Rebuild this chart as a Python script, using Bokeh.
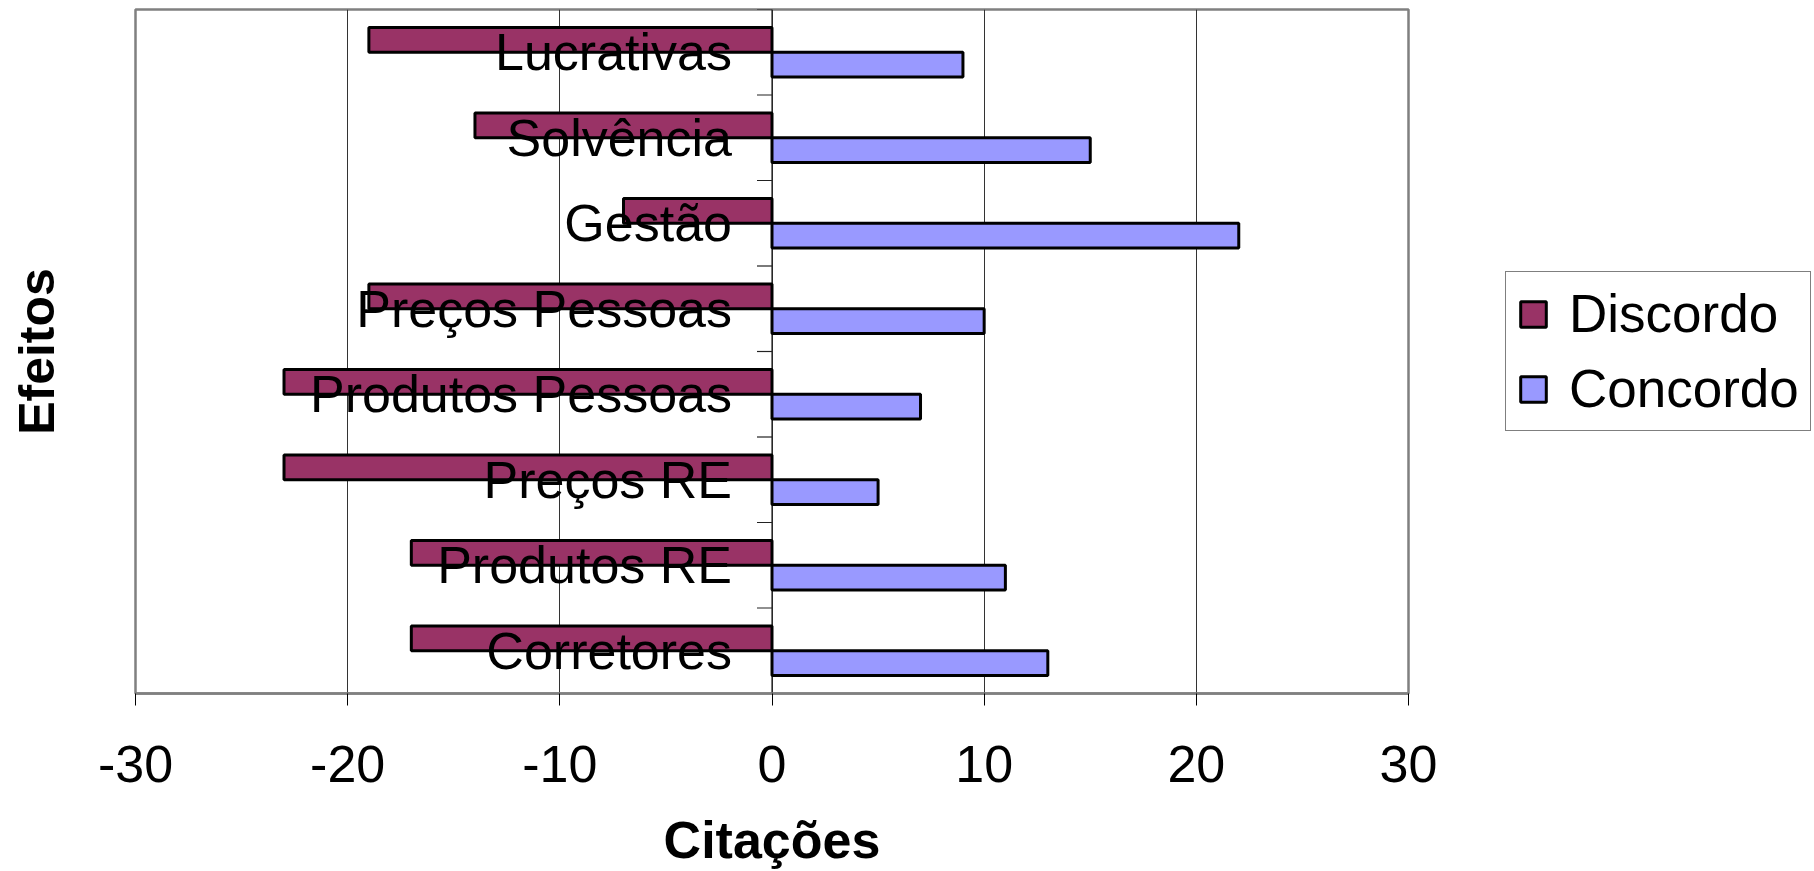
import numpy as np
from bokeh.plotting import figure
from bokeh.layouts import row
from bokeh.models import Range1d, FixedTicker, Span, Legend, LegendItem, ColumnDataSource
from bokeh.core.properties import value
from bokeh.embed import file_html
from bokeh.resources import INLINE

# ---- data (bottom to top) ----
categories = ["Corretores", "Produtos RE", "Preços RE", "Produtos Pessoas",
              "Preços Pessoas", "Gestão", "Solvência", "Lucrativas"]
discordo = [-17, -17, -23, -23, -19, -7, -14, -19]
concordo = [13, 11, 5, 7, 10, 22, 15, 9]
x_ticks = [-30, -20, -10, 0, 10, 20, 30]
series_names = ["Discordo", "Concordo"]
series_colors = ["#993366", "#9999FF"]
x_title = "Citações"
y_title = "Efeitos"

FONT = "Liberation Sans"
n = len(categories)
pos = np.arange(n) + 0.5
bar_h = 0.29

p = figure(width=1450, height=871,
           x_range=Range1d(-30, 30), y_range=Range1d(0, n),
           output_backend="svg", toolbar_location=None,
           min_border_left=135, min_border_right=42,
           min_border_top=9, min_border_bottom=177)

src_d = ColumnDataSource(dict(y=pos + bar_h / 2, v=discordo))
src_c = ColumnDataSource(dict(y=pos - bar_h / 2, v=concordo))

r_d = p.hbar(y="y", left=0, right="v", height=bar_h, source=src_d,
             fill_color=series_colors[0], line_color="black", line_width=3)
r_c = p.hbar(y="y", left=0, right="v", height=bar_h, source=src_c,
             fill_color=series_colors[1], line_color="black", line_width=3)

# zero axis line and category ticks
p.add_layout(Span(location=0, dimension="height", line_color="#222222",
                  line_width=1.2, level="underlay"))
p.ray(x=[0] * (n + 1), y=list(range(n + 1)), length=15, length_units="screen",
      angle=np.pi, line_color="#222222", line_width=1.2)

# category labels next to the zero axis
p.text(x=[0] * n, y=pos, text=categories, text_align="right", text_baseline="middle",
       x_offset=-40, text_font=value(FONT), text_font_size="52px", text_color="black")

# x axis
xa = p.xaxis[0]
xa.ticker = FixedTicker(ticks=x_ticks)
xa.major_label_overrides = {t: str(t) for t in x_ticks}
xa.major_label_text_font = FONT
xa.major_label_text_font_size = "52px"
xa.major_label_text_color = "black"
xa.major_label_standoff = 40
xa.major_tick_out = 12
xa.major_tick_in = 0
xa.major_tick_line_color = "black"
xa.minor_tick_line_color = None
xa.axis_line_color = "#808080"
xa.axis_line_width = 2.5
xa.axis_label = x_title
xa.axis_label_text_font = FONT
xa.axis_label_text_font_size = "52px"
xa.axis_label_text_font_style = "bold"
xa.axis_label_text_color = "black"
xa.axis_label_standoff = 26

# y axis (title only)
ya = p.yaxis[0]
ya.ticker = FixedTicker(ticks=[])
ya.major_label_text_font_size = "0px"
ya.major_tick_line_color = None
ya.minor_tick_line_color = None
ya.axis_line_color = None
ya.axis_label = y_title
ya.axis_label_text_font = FONT
ya.axis_label_text_font_size = "50px"
ya.axis_label_text_font_style = "bold"
ya.axis_label_text_color = "black"
ya.axis_label_standoff = 71

p.xgrid.grid_line_color = "#333333"
p.xgrid.grid_line_width = 1
p.ygrid.visible = False
p.outline_line_color = "#808080"
p.outline_line_width = 2.5

# ---- legend panel (separate figure to the right) ----
pl = figure(width=364, height=871, x_range=Range1d(0, 1), y_range=Range1d(0, 1),
            output_backend="svg", toolbar_location=None, min_border=0,
            x_axis_location=None, y_axis_location=None)
pl.outline_line_color = None
pl.grid.visible = False
swatches = []
for color in series_colors:
    # placeholder renderer without drawable data, only used for the legend swatch
    swatches.append(pl.hbar(y=[np.nan], left=[np.nan], right=[np.nan], height=0.1,
                            fill_color=color, line_color="black", line_width=3))

legend = Legend(items=[LegendItem(label=name, renderers=[r])
                       for name, r in zip(series_names, swatches)],
                location=(55, 262))
legend.label_text_font = FONT
legend.label_text_font_size = "53px"
legend.label_text_color = "black"
legend.glyph_width = 32
legend.glyph_height = 32
legend.label_standoff = 20
legend.padding = 11
legend.spacing = 14
legend.margin = 0
legend.border_line_color = "black"
legend.border_line_width = 1
legend.background_fill_color = "white"
legend.background_fill_alpha = 1
pl.add_layout(legend)

layout = row(p, pl)
open("out.html", "w").write(file_html(layout, INLINE))
